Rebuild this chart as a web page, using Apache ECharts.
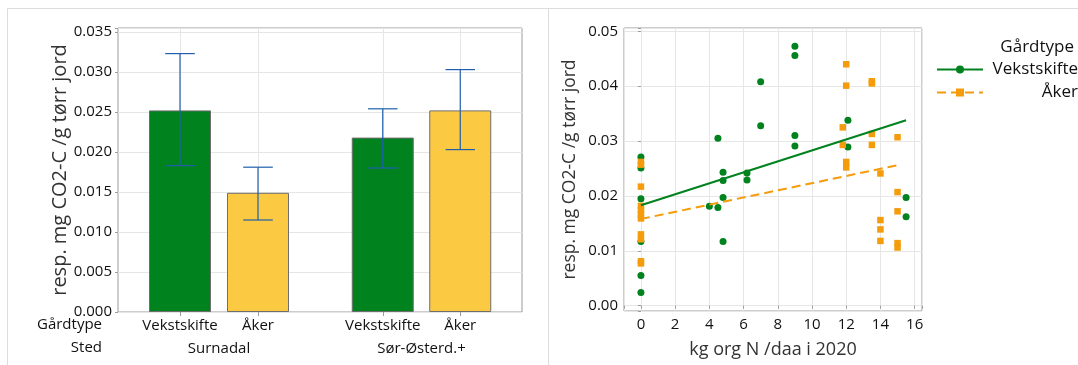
<!DOCTYPE html>
<html>
<head>
<meta charset="utf-8">
<script src="https://cdn.jsdelivr.net/npm/echarts@6/dist/echarts.min.js"></script>
<style>
  html, body { margin: 0; padding: 0; background: #fff; }
  #main { width: 1078px; height: 365px; }
</style>
</head>
<body>
<div id="main"></div>
<script>
// venstre figur: middelverdi med feilstolper
const gardtype = ["Vekstskifte", "Åker"];
const sted = ["Surnadal", "Sør-Østerd.+"];
const snittSurnadal = [0.0252, 0.0149];
const nedreSurnadal = [0.0183, 0.0115];
const ovreSurnadal = [0.0323, 0.0181];
const snittSor = [0.0218, 0.0252];
const nedreSor = [0.0180, 0.0203];
const ovreSor = [0.0254, 0.0303];

// høyre figur: spredningsplott
const vekstX = [0, 0, 0, 0, 0, 0, 4.0, 4.5, 4.5, 4.8, 4.8, 4.8, 4.8, 6.2, 6.2, 7.0, 7.0, 9, 9, 9, 9, 12.1, 12.1, 15.5, 15.5];
const vekstY = [0.0271, 0.0251, 0.0195, 0.0117, 0.0055, 0.0024, 0.0181, 0.0305, 0.0179, 0.0243, 0.0228, 0.0197, 0.0117,
  0.0242, 0.0229, 0.0408, 0.0328, 0.0473, 0.0456, 0.0310, 0.0291, 0.0338, 0.0289, 0.0197, 0.0162];
const akerX = [0, 0, 0, 0, 0, 0, 0, 0, 0, 0, 0, 11.8, 11.8, 12, 12, 12, 12, 13.5, 13.5, 13.5, 13.5, 14, 14, 14, 14, 15, 15, 15, 15, 15];
const akerY = [0.0262, 0.0257, 0.0217, 0.0182, 0.0174, 0.0166, 0.0159, 0.0130, 0.0121, 0.0081, 0.0077,
  0.0325, 0.0293, 0.0440, 0.0401, 0.0262, 0.0252, 0.0409, 0.0405, 0.0313, 0.0293,
  0.0241, 0.0156, 0.0139, 0.0118, 0.0307, 0.0207, 0.0172, 0.0114, 0.0106];
// regresjonslinjer (endepunkter lest av figuren)
const linjeVekstX = [0, 15.5];
const linjeVekstY = [0.0183, 0.0338];
const linjeAkerX = [0, 15];
const linjeAkerY = [0.0158, 0.0256];

const farger = ["#00821e", "#fcca42"];
const gronn = "#00821e";
const oransje = "#f59c0c";
const ramme = "#9b9b9b";
const rutenett = "#e6e6e6";
const tekst = "#111";
const font = "Open Sans";

const zip = (xs, ys) => xs.map((x, i) => [x, ys[i]]);
const kunHele = (step, dec) => v => {
  const k = v / step;
  return Math.abs(k - Math.round(k)) < 1e-6 ? v.toFixed(dec) : "";
};

function feilstolpe(params, api) {
  const i = api.value(0);
  const lav = api.coord([i, api.value(1)]);
  const hoy = api.coord([i, api.value(2)]);
  const halv = api.size([1, 0])[0] * 0.19;
  const stil = { stroke: "#1f5fae", lineWidth: 1.2 };
  return {
    type: "group",
    children: [
      { type: "line", shape: { x1: hoy[0], y1: hoy[1], x2: lav[0], y2: lav[1] }, style: stil },
      { type: "line", shape: { x1: hoy[0] - halv, y1: hoy[1], x2: hoy[0] + halv, y2: hoy[1] }, style: stil },
      { type: "line", shape: { x1: lav[0] - halv, y1: lav[1], x2: lav[0] + halv, y2: lav[1] }, style: stil }
    ]
  };
}

function kategoriAkser(gridIndex, navn) {
  return [
    {
      gridIndex: gridIndex,
      type: "category",
      position: "bottom",
      data: gardtype,
      axisLine: { show: false },
      axisTick: { show: true, interval: 0, alignWithLabel: true, length: 4, lineStyle: { color: ramme } },
      axisLabel: { interval: 0, margin: 6, fontSize: 15, color: tekst, fontFamily: font },
      splitLine: { show: false },
      name: navn,
      nameLocation: "middle",
      nameGap: 29,
      nameTextStyle: { fontSize: 15, color: tekst, fontFamily: font }
    },
    {
      gridIndex: gridIndex,
      type: "category",
      position: "bottom",
      data: gardtype,
      axisLine: { show: false },
      axisLabel: { show: false, interval: 0 },
      axisTick: { show: true, interval: 0, inside: true, alignWithLabel: true, length: 284, lineStyle: { color: rutenett } },
      splitLine: { show: false }
    }
  ];
}

const skjultY = gridIndex => ({ gridIndex: gridIndex, type: "value", min: 0, max: 0.0355, show: false });

const option = {
  animation: false,
  textStyle: { fontFamily: font },
  grid: [
    { left: 118, top: 28, width: 404, height: 284, show: true, borderColor: ramme, borderWidth: 1, backgroundColor: "transparent" },
    { left: 141, top: 28, width: 156, height: 284 },
    { left: 344, top: 28, width: 155, height: 284 },
    { left: 624, top: 28, width: 298, height: 283, show: true, borderColor: ramme, borderWidth: 1, backgroundColor: "transparent" }
  ],
  xAxis: [
    { gridIndex: 0, type: "value", min: 0, max: 1, show: false },
    ...kategoriAkser(1, sted[0]),
    ...kategoriAkser(2, sted[1]),
    {
      gridIndex: 3,
      type: "value",
      min: -0.99,
      max: 16.43,
      splitNumber: 9,
      axisLine: { show: false },
      axisTick: { length: 3, lineStyle: { color: ramme } },
      axisLabel: { margin: 6, fontSize: 15, color: tekst, fontFamily: font, formatter: kunHele(2, 0) },
      splitLine: { lineStyle: { color: rutenett } },
      name: "kg org N /daa i 2020",
      nameLocation: "middle",
      nameGap: 30,
      nameTextStyle: { fontSize: 18, color: "#333", fontFamily: font }
    }
  ],
  yAxis: [
    {
      gridIndex: 0,
      type: "value",
      min: 0,
      max: 0.0355,
      interval: 0.005,
      axisLine: { show: false },
      axisTick: { show: true, length: 3, lineStyle: { color: ramme } },
      axisLabel: { margin: 6, fontSize: 15, color: tekst, fontFamily: font, formatter: kunHele(0.005, 3) },
      splitLine: { lineStyle: { color: rutenett } },
      name: "resp. mg CO2-C /g tørr jord",
      nameLocation: "middle",
      nameGap: 48,
      nameTextStyle: { fontSize: 20, color: "#333", fontFamily: font }
    },
    skjultY(1),
    skjultY(2),
    {
      gridIndex: 3,
      type: "value",
      min: -0.00097,
      max: 0.05061,
      splitNumber: 5,
      axisLine: { show: false },
      axisTick: { show: true, length: 3, lineStyle: { color: ramme } },
      axisLabel: { margin: 6, fontSize: 15, color: tekst, fontFamily: font, formatter: kunHele(0.01, 2) },
      splitLine: { lineStyle: { color: rutenett } },
      name: "resp. mg CO2-C /g tørr jord",
      nameLocation: "middle",
      nameGap: 45,
      nameTextStyle: { fontSize: 17.5, color: "#333", fontFamily: font }
    }
  ],
  legend: {
    orient: "vertical",
    left: 931,
    top: 56,
    itemGap: 6,
    itemWidth: 46,
    itemHeight: 10,
    data: ["Vekstskifte", "Åker"],
    formatter: "{t|{name}}",
    textStyle: {
      color: tekst,
      fontFamily: font,
      rich: { t: { width: 90, align: "right", fontSize: 17, color: tekst, fontFamily: font } }
    }
  },
  graphic: [
    { type: "rect", shape: { x: 7.5, y: 8.5, width: 541, height: 400 }, style: { fill: null, stroke: "#dcdcdc", lineWidth: 1 }, silent: true },
    { type: "rect", shape: { x: 548.5, y: 8.5, width: 600, height: 400 }, style: { fill: null, stroke: "#dcdcdc", lineWidth: 1 }, silent: true },
    { type: "text", x: 102, y: 325, style: { text: "Gårdtype", align: "right", verticalAlign: "middle", font: "15px 'Open Sans'", fill: tekst } },
    { type: "text", x: 102, y: 348, style: { text: "Sted", align: "right", verticalAlign: "middle", font: "15px 'Open Sans'", fill: tekst } },
    { type: "text", x: 1074, y: 47, style: { text: "Gårdtype", align: "right", verticalAlign: "middle", font: "17px 'Open Sans'", fill: tekst } }
  ],
  series: [
    {
      type: "bar",
      xAxisIndex: 1,
      yAxisIndex: 1,
      barWidth: 62,
      data: snittSurnadal.map((v, i) => ({ value: v, itemStyle: { color: farger[i] } })),
      itemStyle: { borderColor: "#6e6e6e", borderWidth: 1 }
    },
    {
      type: "custom",
      xAxisIndex: 1,
      yAxisIndex: 1,
      renderItem: feilstolpe,
      encode: { x: 0, y: [1, 2] },
      data: nedreSurnadal.map((v, i) => [i, v, ovreSurnadal[i]]),
      z: 5
    },
    {
      type: "bar",
      xAxisIndex: 3,
      yAxisIndex: 2,
      barWidth: 62,
      data: snittSor.map((v, i) => ({ value: v, itemStyle: { color: farger[i] } })),
      itemStyle: { borderColor: "#6e6e6e", borderWidth: 1 }
    },
    {
      type: "custom",
      xAxisIndex: 3,
      yAxisIndex: 2,
      renderItem: feilstolpe,
      encode: { x: 0, y: [1, 2] },
      data: nedreSor.map((v, i) => [i, v, ovreSor[i]]),
      z: 5
    },
    {
      name: "Vekstskifte",
      type: "line",
      xAxisIndex: 5,
      yAxisIndex: 3,
      data: zip(linjeVekstX, linjeVekstY),
      symbol: "circle",
      showSymbol: false,
      lineStyle: { color: gronn, width: 2 },
      itemStyle: { color: gronn },
      z: 4
    },
    {
      name: "Åker",
      type: "line",
      xAxisIndex: 5,
      yAxisIndex: 3,
      data: zip(linjeAkerX, linjeAkerY),
      symbol: "rect",
      showSymbol: false,
      lineStyle: { color: oransje, width: 2, type: [9, 5] },
      itemStyle: { color: oransje },
      z: 4
    },
    {
      name: "Vekstskifte",
      type: "scatter",
      xAxisIndex: 5,
      yAxisIndex: 3,
      symbol: "circle",
      symbolSize: 7,
      itemStyle: { color: gronn, opacity: 1 },
      data: zip(vekstX, vekstY),
      z: 2
    },
    {
      name: "Åker",
      type: "scatter",
      xAxisIndex: 5,
      yAxisIndex: 3,
      symbol: "rect",
      symbolSize: 6.5,
      itemStyle: { color: oransje, opacity: 1 },
      data: zip(akerX, akerY),
      z: 3
    }
  ]
};

const chart = echarts.init(document.getElementById("main"));
chart.setOption(option);
</script>
</body>
</html>
